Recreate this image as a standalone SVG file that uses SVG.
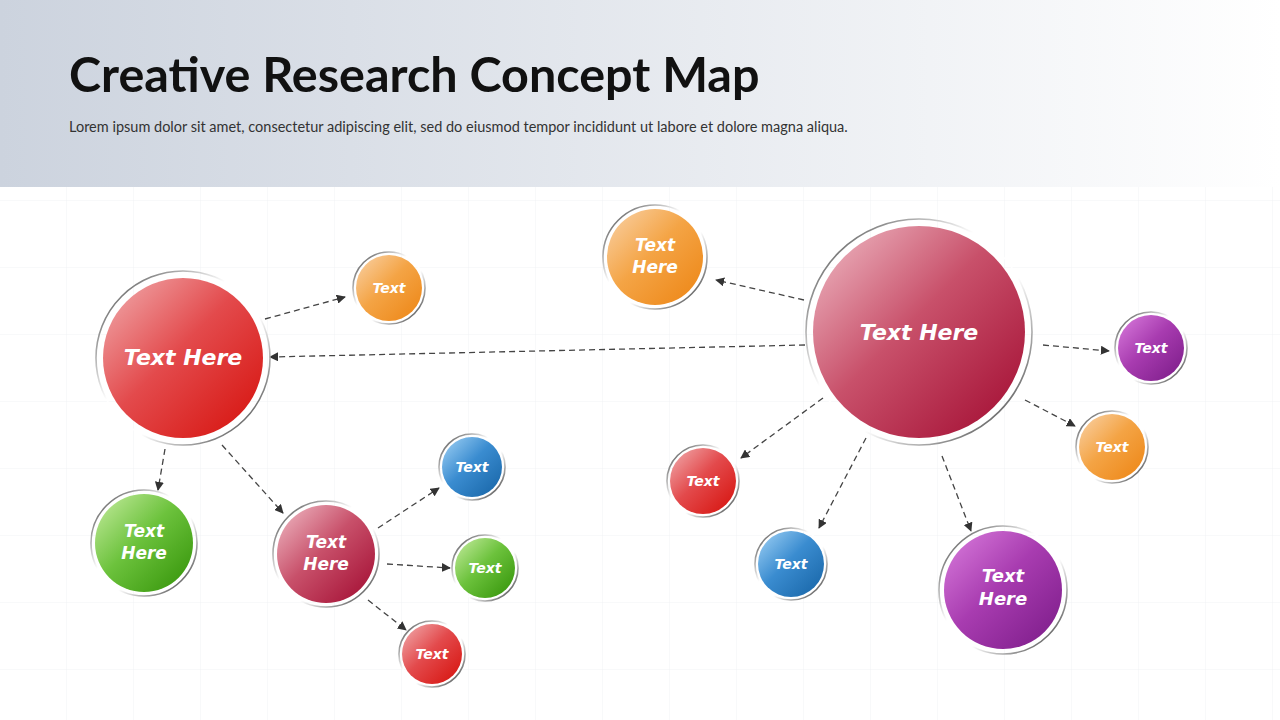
<svg xmlns="http://www.w3.org/2000/svg" width="1280" height="720" viewBox="0 0 1280 720">
<defs>
<linearGradient id="hdr" x1="0" y1="0" x2="1" y2="0"><stop offset="0" stop-color="#ccd3de"/><stop offset="1" stop-color="#ffffff"/></linearGradient>
<pattern id="grid" width="67" height="67" patternUnits="userSpaceOnUse"><path d="M67 0V67H0" fill="none" stroke="#f1f2f4" stroke-width="1"/></pattern>
<linearGradient id="ring" x1="0" y1="0" x2="1" y2="1"><stop offset="0" stop-color="#333"/><stop offset="0.4" stop-color="#fff"/><stop offset="0.6" stop-color="#fff"/><stop offset="1" stop-color="#222"/></linearGradient>
<linearGradient id="red" x1="0.1" y1="0.1" x2="0.9" y2="0.9"><stop offset="0" stop-color="#ee9a9c"/><stop offset="0.45" stop-color="#e34a4c"/><stop offset="1" stop-color="#d81a16"/></linearGradient>
<linearGradient id="crim" x1="0.1" y1="0.1" x2="0.9" y2="0.9"><stop offset="0" stop-color="#e8a7b4"/><stop offset="0.45" stop-color="#c8506a"/><stop offset="1" stop-color="#a8163a"/></linearGradient>
<linearGradient id="org" x1="0.1" y1="0.1" x2="0.9" y2="0.9"><stop offset="0" stop-color="#f8c994"/><stop offset="0.45" stop-color="#f4a445"/><stop offset="1" stop-color="#ee8a1c"/></linearGradient>
<linearGradient id="grn" x1="0.1" y1="0.1" x2="0.9" y2="0.9"><stop offset="0" stop-color="#b4e48c"/><stop offset="0.45" stop-color="#6cc23c"/><stop offset="1" stop-color="#3c9a10"/></linearGradient>
<linearGradient id="blu" x1="0.1" y1="0.1" x2="0.9" y2="0.9"><stop offset="0" stop-color="#8cc4ee"/><stop offset="0.45" stop-color="#3a8cd0"/><stop offset="1" stop-color="#1c6aac"/></linearGradient>
<linearGradient id="pur" x1="0.1" y1="0.1" x2="0.9" y2="0.9"><stop offset="0" stop-color="#d070d4"/><stop offset="0.45" stop-color="#a83cb0"/><stop offset="1" stop-color="#82208e"/></linearGradient>
<marker id="ah" viewBox="0 0 10 10" refX="9" refY="5" markerWidth="7" markerHeight="7" orient="auto"><path d="M0 0L10 5L0 10z" fill="#333"/></marker>
</defs>
<style>
.ring{fill:none;stroke:url(#ring);stroke-width:1.6}
.t{font-family:"Comic Sans MS","DejaVu Sans",sans-serif;font-weight:bold;font-style:italic;fill:#fff;text-anchor:middle}
.conn line{stroke:#444;stroke-width:1.3;stroke-dasharray:6 4;marker-end:url(#ah)}
</style>
<rect width="1280" height="720" fill="#fff"/>
<rect width="1280" height="720" fill="url(#grid)"/>
<rect width="1280" height="187" fill="url(#hdr)"/>
<text x="69" y="92" font-family="Lato,'Liberation Sans',sans-serif" font-weight="bold" font-size="48.5" fill="#111">Creative Research Concept Map</text>
<text x="69" y="132" font-family="Lato,'Liberation Sans',sans-serif" font-size="14.5" fill="#333">Lorem ipsum dolor sit amet, consectetur adipiscing elit, sed do eiusmod tempor incididunt ut labore et dolore magna aliqua.</text>
<g class="conn">
<line x1="265" y1="319" x2="345" y2="297"/>
<line x1="805" y1="345" x2="270" y2="357"/>
<line x1="165" y1="449" x2="158" y2="490"/>
<line x1="222" y1="445" x2="283" y2="513"/>
<line x1="378" y1="528" x2="439" y2="488"/>
<line x1="387" y1="564" x2="450" y2="568"/>
<line x1="368" y1="600" x2="406" y2="630"/>
<line x1="804" y1="300" x2="716" y2="280"/>
<line x1="1043" y1="345" x2="1109" y2="351"/>
<line x1="1025" y1="400" x2="1075" y2="426"/>
<line x1="823" y1="398" x2="741" y2="458"/>
<line x1="866" y1="438" x2="819" y2="528"/>
<line x1="942" y1="456" x2="971" y2="531"/>
</g>
<g id="n1"><circle class="ring" cx="183" cy="358" r="87"/><circle cx="183" cy="358" r="80" fill="url(#red)"/><text class="t" x="183" y="365" font-size="22">Text Here</text></g>
<g id="n2"><circle class="ring" cx="389" cy="288" r="36"/><circle cx="389" cy="288" r="33" fill="url(#org)"/><text class="t" x="389" y="293" font-size="14">Text</text></g>
<g id="n3"><circle class="ring" cx="144" cy="543" r="53"/><circle cx="144" cy="543" r="49" fill="url(#grn)"/><text class="t" x="144" y="537" font-size="17">Text</text><text class="t" x="144" y="559" font-size="17">Here</text></g>
<g id="n4"><circle class="ring" cx="326" cy="554" r="53"/><circle cx="326" cy="554" r="49" fill="url(#crim)"/><text class="t" x="326" y="548" font-size="17">Text</text><text class="t" x="326" y="570" font-size="17">Here</text></g>
<g id="n5"><circle class="ring" cx="472" cy="467" r="33"/><circle cx="472" cy="467" r="30" fill="url(#blu)"/><text class="t" x="472" y="472" font-size="14">Text</text></g>
<g id="n6"><circle class="ring" cx="485" cy="568" r="33"/><circle cx="485" cy="568" r="30" fill="url(#grn)"/><text class="t" x="485" y="573" font-size="14">Text</text></g>
<g id="n7"><circle class="ring" cx="432" cy="654" r="33"/><circle cx="432" cy="654" r="30" fill="url(#red)"/><text class="t" x="432" y="659" font-size="14">Text</text></g>
<g id="n8"><circle class="ring" cx="655" cy="257" r="52"/><circle cx="655" cy="257" r="48" fill="url(#org)"/><text class="t" x="655" y="251" font-size="17">Text</text><text class="t" x="655" y="273" font-size="17">Here</text></g>
<g id="n9"><circle class="ring" cx="919" cy="332" r="113"/><circle cx="919" cy="332" r="106" fill="url(#crim)"/><text class="t" x="919" y="340" font-size="22">Text Here</text></g>
<g id="n10"><circle class="ring" cx="1151" cy="348" r="36"/><circle cx="1151" cy="348" r="33" fill="url(#pur)"/><text class="t" x="1151" y="353" font-size="14">Text</text></g>
<g id="n11"><circle class="ring" cx="1112" cy="447" r="36"/><circle cx="1112" cy="447" r="33" fill="url(#org)"/><text class="t" x="1112" y="452" font-size="14">Text</text></g>
<g id="n12"><circle class="ring" cx="703" cy="481" r="36"/><circle cx="703" cy="481" r="33" fill="url(#red)"/><text class="t" x="703" y="486" font-size="14">Text</text></g>
<g id="n13"><circle class="ring" cx="791" cy="564" r="36"/><circle cx="791" cy="564" r="33" fill="url(#blu)"/><text class="t" x="791" y="569" font-size="14">Text</text></g>
<g id="n14"><circle class="ring" cx="1003" cy="590" r="64"/><circle cx="1003" cy="590" r="59" fill="url(#pur)"/><text class="t" x="1003" y="582" font-size="18">Text</text><text class="t" x="1003" y="605" font-size="18">Here</text></g>
</svg>
